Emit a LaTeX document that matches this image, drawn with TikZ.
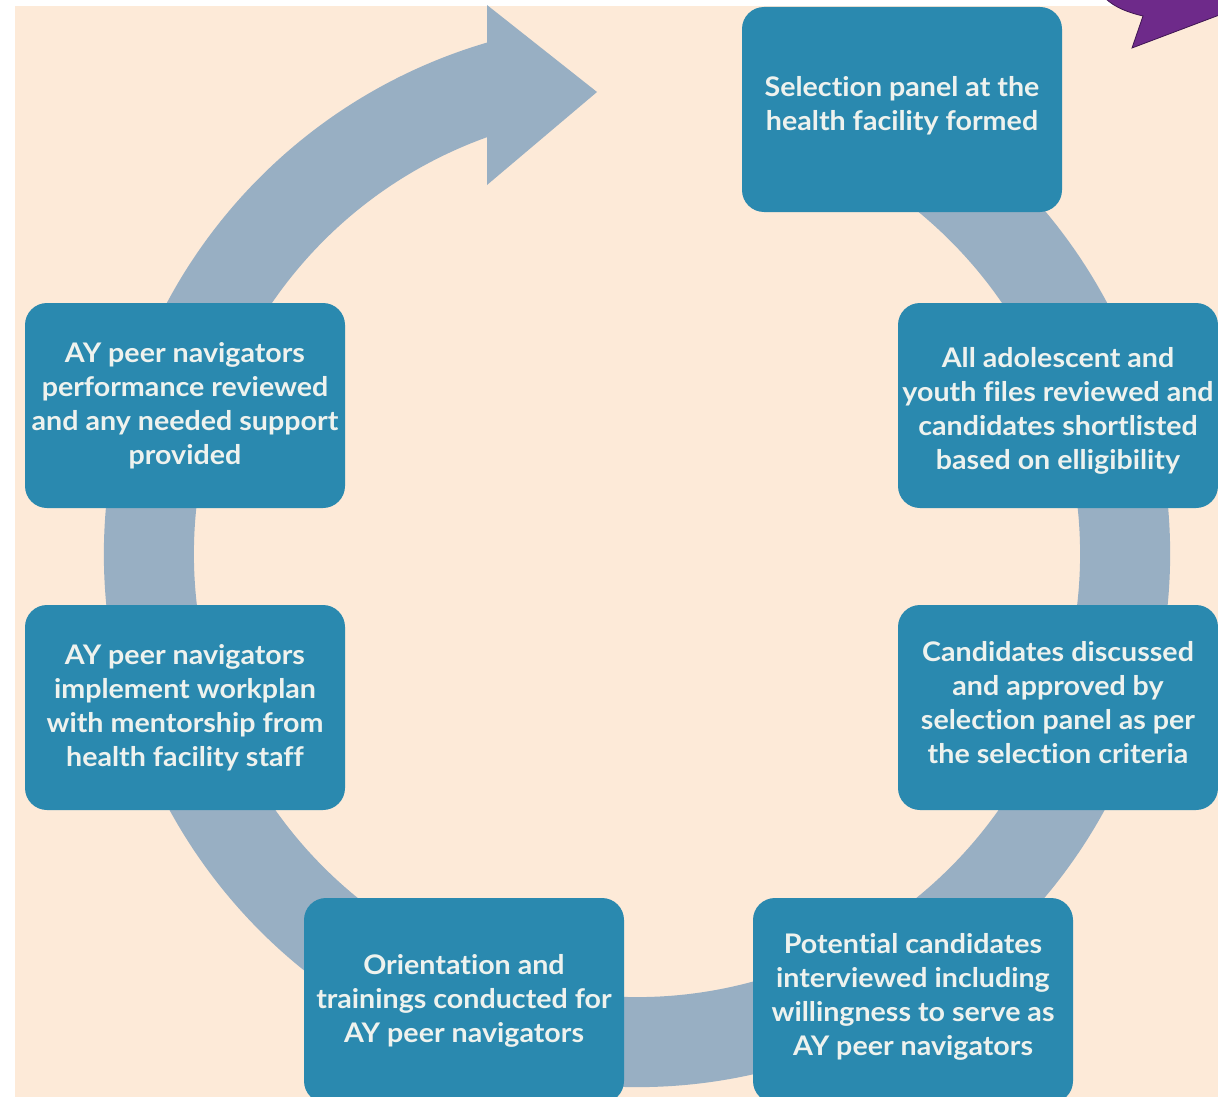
\documentclass[tikz,border=0pt]{standalone}
\usepackage{fontspec}
\setmainfont{Lato}[FakeStretch=1.06, Ligatures=NoCommon]
\definecolor{peach}{HTML}{FDEAD8}
\definecolor{ringblue}{HTML}{98AFC3}
\definecolor{boxteal}{HTML}{2A89AF}
\definecolor{boxtext}{HTML}{EEF2EE}
\definecolor{bubble}{HTML}{6E2A8A}
\definecolor{bubbleline}{HTML}{3F1652}
\begin{document}
\begin{tikzpicture}[x=1pt, y=-1pt,
		stepbox/.style={fill=boxteal, rounded corners=22pt, minimum width=320pt, minimum height=205pt,
			inner sep=0pt, align=center, text=boxtext, font=\fontsize{27}{34}\selectfont\bfseries}]
			\useasboundingbox (0,0) rectangle (1218,1097);
			\clip (0,0) rectangle (1218,1097);

			% background
			\fill[white] (0,0) rectangle (1218,1097);
			\fill[peach] (15,6) rectangle (1218,1097);

			% bubble in the corner
			\filldraw[fill=bubble, draw=bubbleline, thick] (1105,-2) .. controls (1115,8) and (1130,13) .. (1143,16)
				-- (1132,48) -- (1222,14) -- (1222,-2) -- cycle;

			% ring
			\coordinate (c) at (637,554);
			\fill[ringblue] ([shift={(c)}]-75:533) arc[start angle=-75, end angle=253.65, radius=533]
				-- ([shift={(c)}]250.21:443) arc[start angle=250.21, end angle=-75, radius=443] -- cycle;
			\fill[ringblue] (487,5) -- (597,92) -- (487,185) -- cycle;

			% steps
			\node[stepbox] (panel) at (902,109.5) {Selection panel at the\\health facility formed\\[-21pt]};
			\node[stepbox] (files) at (1058,405.5) {\mbox{}\\[-4pt]All adolescent and\\youth files reviewed and\\candidates shortlisted\\based on elligibility};
			\node[stepbox] (approve) at (1058,707.5) {Candidates discussed\\and approved by\\selection panel as per\\the selection criteria\\[-23pt]};
			\node[stepbox] (interview) at (913,1000.5) {Potential candidates\\interviewed including\\willingness to serve as\\AY peer navigators\\[-22pt]};
			\node[stepbox] (training) at (464,1000.5) {Orientation and\\trainings conducted for\\AY peer navigators};
			\node[stepbox] (workplan) at (185,707.5) {AY peer navigators\\implement workplan\\with mentorship from\\health facility staff};
			\node[stepbox] (review) at (185,405.5) {AY peer navigators\\performance reviewed\\and any needed support\\provided};
		\end{tikzpicture}
\end{document}
